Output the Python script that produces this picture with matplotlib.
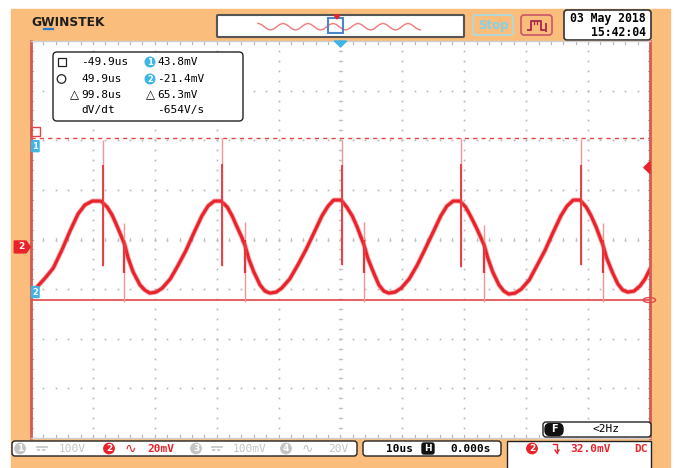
import matplotlib
matplotlib.use("Agg")
import matplotlib.pyplot as plt
from matplotlib.patches import FancyBboxPatch, Rectangle, Circle, Polygon
from matplotlib import font_manager

# ---------------------------------------------------------------------------
# CH2 trace: time in us, amplitude in mV
# ---------------------------------------------------------------------------
trace_t = [
    -50.0, -49.2, -47.7, -46.4, -45.0, -43.7, -42.4, -41.3, -40.1, -38.7,
    -37.7, -36.9, -36.1, -35.3, -34.9, -34.3, -33.5, -32.4, -31.6, -30.8,
    -29.8, -28.8, -27.5, -26.3, -25.0, -23.7, -22.4, -21.4, -20.4, -19.3,
    -18.3, -17.5, -16.7, -15.9, -15.4, -14.8, -14.0, -13.0, -12.2, -11.4,
    -10.4, -9.5, -8.2, -6.9, -5.6, -4.3, -3.0, -2.0, -1.1, 0.1,
    1.0, 1.9, 2.7, 3.3, 3.8, 4.4, 5.3, 6.2, 7.0, 7.8,
    8.8, 9.8, 11.1, 12.4, 13.6, 14.9, 16.2, 17.2, 18.2, 19.3,
    20.2, 21.0, 21.9, 22.7, 23.2, 23.8, 24.6, 25.6, 26.4, 27.2,
    28.2, 29.2, 30.5, 31.7, 33.0, 34.3, 35.6, 36.6, 37.6, 38.7,
    39.7, 40.5, 41.3, 41.9, 42.4, 43.0, 43.9, 44.8, 45.6, 46.4,
    47.4, 48.4, 49.2, 50.0,
]
trace_mv = [
    -18.2, -16.6, -12.5, -8.5, -1.2, 6.4, 13.3, 16.9, 18.5, 18.5,
    16.1, 12.9, 8.4, 3.6, 1.2, -4.5, -10.1, -15.3, -17.4, -18.6,
    -18.2, -16.6, -12.9, -7.7, -1.6, 5.6, 12.5, 16.5, 18.5, 18.5,
    16.1, 12.5, 8.0, 3.6, 0.4, -4.9, -10.1, -15.3, -17.8, -18.6,
    -18.2, -16.6, -12.9, -7.3, -1.2, 5.6, 12.5, 16.5, 18.9, 18.9,
    16.1, 12.5, 8.0, 4.0, 0.8, -4.5, -10.1, -15.3, -17.8, -18.6,
    -18.2, -16.6, -12.9, -7.3, -1.2, 5.6, 12.5, 16.5, 18.5, 18.5,
    16.1, 12.5, 8.0, 3.6, 0.8, -4.5, -10.1, -15.3, -17.8, -19.0,
    -18.6, -17.0, -13.3, -7.7, -1.6, 5.6, 12.5, 16.5, 18.9, 18.9,
    16.1, 12.5, 8.0, 4.0, 0.8, -4.5, -10.1, -14.9, -17.4, -18.2,
    -17.8, -15.7, -12.9, -8.9,
]

# switching spikes (big one at the top of each cycle, smaller one on the fall)
spike_t = [-38.4, -19.1, 0.2, 19.5, 38.8]
spike_hi = [43.1, 43.9, 43.1, 43.9, 43.5]
spike_lo = [-7.7, -7.7, -7.3, -8.1, -7.3]
spike_core_hi = [33.0, 33.5, 33.0, 33.5, 33.0]
ring_t = [-34.9, -15.4, 3.8, 23.2, 42.4]
ring_hi = [9.8, 10.1, 10.1, 8.8, 9.7]
ring_lo = [-22.0, -22.0, -22.0, -22.0, -22.0]
ring_core_hi = [2.8, 3.0, 2.8, 2.0, 2.8]
ring_core_lo = [-10.5, -10.5, -10.5, -10.5, -10.5]

cursor1_mv = 43.8
cursor2_mv = -21.4
trig_level_mv = 32.0
ch2_ground_mv = 0.0

# memory bar overview wave (normalised samples, 1/8 cycle apart)
mini_wave = [
    1, .7, 0, -.7, -1, -.7, 0, .7, 1, .7, 0, -.7, -1, -.7, 0, .7,
    1, .7, 0, -.7, -1, -.7, 0, .7, 1, .7, 0, -.7, -1, -.7, 0, .7,
    1, .7, 0, -.7, -1, -.7, 0, .7, 1, .7, 0, -.7, -1, -.7, 0, .7,
    1, .7, 0, -.7, -1,
]

# readouts
cursor_rows = [
    ("-49.9us", "43.8mV"),
    ("49.9us", "-21.4mV"),
    ("99.8us", "65.3mV"),
    ("dV/dt", "-654V/s"),
]
date_text = "03 May 2018"
time_text = "15:42:04"

ORANGE = "#FABD7B"
RED = "#E8232B"
CYAN = "#3DB5E6"
GREY = "#C4C4C4"
MONO = "DejaVu Sans Mono"

names = {f.name for f in font_manager.fontManager.ttflist}
LOGO_FONT = "Liberation Sans Narrow" if "Liberation Sans Narrow" in names else "DejaVu Sans"
LOGO_SIZE = 12 if LOGO_FONT == "Liberation Sans Narrow" else 8.8

fig = plt.figure(figsize=(6.76, 4.68), dpi=100)
fig.patch.set_facecolor("white")

# pixel-space background layer
bg = fig.add_axes([0, 0, 1, 1])
bg.set_xlim(0, 676)
bg.set_ylim(468, 0)
bg.axis("off")
bg.add_patch(Rectangle((11, 9), 659, 460, color=ORANGE, zorder=0))


def rbox(x0, y0, x1, y1, fc="white", ec="#222222", lw=1.0, r=3, z=2, ax=bg):
    ax.add_patch(FancyBboxPatch((x0 + r, y0 + r), x1 - x0 - 2 * r, y1 - y0 - 2 * r,
                                boxstyle=f"round,pad={r}", fc=fc, ec=ec, lw=lw, zorder=z))


def badge(ax, x, y, label, color, r=5.2, fs=6.5):
    ax.add_patch(Circle((x, y), r, color=color, zorder=5))
    ax.text(x, y + 0.3, label, color="white", fontsize=fs, fontweight="bold",
            ha="center", va="center", zorder=6)


# logo
bg.text(31, 22.5, "GWINSTEK", fontsize=LOGO_SIZE, fontweight="bold", color="#1E1E1E",
        ha="left", va="center", family=LOGO_FONT)
bg.plot([44, 53], [28.5, 28.5], color="#2A7BD0", lw=1.6)

# memory bar
rbox(217, 15, 464, 37, ec="#555555", lw=1.5, r=1)
mini_x = [258 + i * 3.125 for i in range(len(mini_wave))]
mini_y = [26.7 - 3.3 * v for v in mini_wave]
bg.plot(mini_x, mini_y, color="#F07A7A", lw=1.0, zorder=3)
bg.add_patch(Rectangle((328, 18), 15, 15, fill=False, ec="#4A86C8", lw=1.5, zorder=4))
bg.add_patch(Polygon([[334, 15], [340, 15], [337, 19]], color=RED, zorder=5))

# Stop / trigger buttons
rbox(473, 15, 513, 35, fc=ORANGE, ec="#A8DCEA", lw=1.2, r=3)
bg.text(493, 25.5, "Stop", color="#86CFE4", fontsize=8.5, fontweight="bold",
        ha="center", va="center", zorder=3)
rbox(521, 15, 552, 35, fc=ORANGE, ec="#C8566A", lw=1.2, r=3)
bg.plot([528, 531, 531, 541, 541, 544], [30, 30, 21, 21, 30, 30], color="#B0304E", lw=1.4, zorder=3)
bg.plot([546, 546], [24, 31], color="#B0304E", lw=1.4, zorder=3)
for tx in [534, 537]:
    bg.plot([tx, tx], [21, 24], color="#B0304E", lw=1.0, zorder=3)

# date box
rbox(564, 10, 651, 40, ec="#333333", lw=1.2, r=3)
bg.text(646, 18.5, date_text, family=MONO, fontsize=8.3, fontweight="bold",
        ha="right", va="center", zorder=3)
bg.text(646, 32, time_text, family=MONO, fontsize=8.3, fontweight="bold",
        ha="right", va="center", zorder=3)

# bottom status bar
rbox(12, 441, 357, 456, lw=1.0, r=3)
rbox(363, 441, 501, 456, lw=1.0, r=3)
bg.add_patch(Rectangle((507, 441), 144, 30, fc="white", ec="#222222", lw=1.0, zorder=2))

yb = 448.5
badge(bg, 20, yb, "1", GREY)
for x0, col in [(37, GREY), (212, GREY)]:
    bg.plot([x0, x0 + 10], [yb - 1.5, yb - 1.5], color=col, lw=1.2, zorder=3)
    bg.plot([x0, x0 + 10], [yb + 1.5, yb + 1.5], color=col, lw=1.2, ls=(0, (2, 1)), zorder=3)
bg.text(59, yb, "100V", family=MONO, fontsize=8, color=GREY, va="center", zorder=3)
badge(bg, 109, yb, "2", RED)
bg.text(130, yb, "\u223f", fontsize=10, color=RED, ha="center", va="center", zorder=3)
bg.text(147, yb, "20mV", family=MONO, fontsize=8, color=RED, fontweight="bold", va="center", zorder=3)
badge(bg, 196, yb, "3", GREY)
bg.text(233, yb, "100mV", family=MONO, fontsize=8, color=GREY, va="center", zorder=3)
badge(bg, 286, yb, "4", GREY)
bg.text(307, yb, "\u223f", fontsize=10, color=GREY, ha="center", va="center", zorder=3)
bg.text(328, yb, "20V", family=MONO, fontsize=8, color=GREY, va="center", zorder=3)

bg.text(386, yb, "10us", family=MONO, fontsize=8, fontweight="bold", va="center", zorder=3)
rbox(422, 443, 434, 454, fc="#111111", ec="#111111", r=2, z=3)
bg.text(428, yb, "H", fontsize=6.5, color="white", fontweight="bold", ha="center", va="center", zorder=4)
bg.text(450, yb, "0.000s", family=MONO, fontsize=8, fontweight="bold", va="center", zorder=3)

badge(bg, 532, yb, "2", RED)
bg.plot([553, 557, 557], [443.5, 443.5, 453], color=RED, lw=1.0, zorder=3)
bg.plot([555, 557, 559], [450, 453, 450], color=RED, lw=1.0, zorder=3)
bg.text(570, yb, "32.0mV", family=MONO, fontsize=8, color=RED, fontweight="bold", va="center", zorder=3)
bg.text(648, yb, "DC", family=MONO, fontsize=8, color=RED, fontweight="bold", ha="right", va="center", zorder=3)

# ---------------------------------------------------------------------------
# scope screen
# ---------------------------------------------------------------------------
ax = fig.add_axes([31 / 676, 30 / 468, 619 / 676, 397 / 468])
ax.set_xlim(-50, 50)
ax.set_ylim(-77, 83)
ax.set_facecolor("white")
ax.set_xticks([])
ax.set_yticks([])
for side in ["top", "bottom"]:
    ax.spines[side].set_color("#CFCFCF")
    ax.spines[side].set_linewidth(1.0)
for side in ["left", "right"]:
    ax.spines[side].set_color("#D25B55")
    ax.spines[side].set_linewidth(2.0)

# graticule: dots every fifth of a division along the major lines
x_major = [-40, -30, -20, -10, 0, 10, 20, 30, 40]
y_major = [-57, -37, -17, 3, 23, 43, 63]
x_minor = [-50 + 2 * i for i in range(51)]
y_minor = [-77 + 4 * i for i in range(41)]
for xm in x_major:
    ax.plot([xm] * len(y_minor), y_minor, ls="none", marker="s", ms=1.2, color="#B5B5B5", mew=0)
for ym in y_major:
    ax.plot(x_minor, [ym] * len(x_minor), ls="none", marker="s", ms=1.2, color="#B5B5B5", mew=0)
# short minor ticks on centre lines and edges
for xm in x_minor:
    ax.plot([xm, xm], [3 - 0.6, 3 + 0.6], color="#C2C2C2", lw=0.8)
    ax.plot([xm, xm], [83, 81.6], color="#B5B5B5", lw=0.8)
    ax.plot([xm, xm], [-77, -75.6], color="#B5B5B5", lw=0.8)
for ym in y_minor:
    ax.plot([-0.25, 0.25], [ym, ym], color="#C2C2C2", lw=0.8)
    ax.plot([-50, -49.6], [ym, ym], color="#B5B5B5", lw=0.8)
    ax.plot([49.6, 50], [ym, ym], color="#B5B5B5", lw=0.8)

# cursors
ax.axhline(cursor1_mv, color="#E0454A", lw=1.0, ls=(0, (3, 3)))
ax.axhline(cursor2_mv, color="#E0454A", lw=1.2)

# trace and spikes
ax.plot(trace_t, trace_mv, color=RED, lw=3.6, alpha=0.35, solid_joinstyle="round")
ax.plot(trace_t, trace_mv, color=RED, lw=2.3, solid_joinstyle="round", solid_capstyle="round")
ax.vlines(spike_t, spike_lo, spike_hi, color="#F29595", lw=1.0)
ax.vlines(spike_t, spike_lo, spike_core_hi, color="#E8343A", lw=1.3)
ax.vlines(ring_t, ring_lo, ring_hi, color="#F29595", lw=1.0)
ax.vlines(ring_t, ring_core_lo, ring_core_hi, color="#E8343A", lw=1.6)

# markers on the screen edges
ytr = ax.get_yaxis_transform()
xtr = ax.get_xaxis_transform()
for val, lab, off in [(cursor1_mv, "1", -3.2), (cursor2_mv, "2", 3.2)]:
    ax.add_patch(FancyBboxPatch((0.003, val + off - 2.2), 0.008, 4.4, boxstyle="round,pad=0.002",
                                transform=ytr, fc=CYAN, ec=CYAN, clip_on=False, zorder=6))
    ax.text(0.007, val + off, lab, transform=ytr, color="white", fontsize=6, fontweight="bold",
            ha="center", va="center", zorder=7)
ax.add_patch(Rectangle((0.0, cursor1_mv + 1.0), 0.015, 3.4, transform=ytr, fill=False,
                       ec="#E0454A", lw=1.0, clip_on=False, zorder=6))
ax.add_patch(Polygon([[-0.027, ch2_ground_mv + 2.4], [-0.008, ch2_ground_mv + 2.4],
                      [-0.001, ch2_ground_mv], [-0.008, ch2_ground_mv - 2.4],
                      [-0.027, ch2_ground_mv - 2.4]], closed=True, transform=ytr,
                     color=RED, clip_on=False, zorder=6))
ax.text(-0.015, ch2_ground_mv, "2", transform=ytr, color="white", fontsize=6.5,
        fontweight="bold", ha="center", va="center", zorder=7)
ax.add_patch(Polygon([[0.99, trig_level_mv], [1.0, trig_level_mv + 2.4], [1.0, trig_level_mv - 2.4]],
                     closed=True, transform=ytr, color=RED, clip_on=False, zorder=6))
ax.add_patch(Polygon([[-1.0, 1.0], [1.0, 1.0], [0.0, 0.985]], closed=True, transform=xtr,
                     color=CYAN, clip_on=False, zorder=6))
ax.add_patch(Circle((49.9, cursor2_mv), 1.0, fill=False, ec="#E0454A", lw=1.0, clip_on=False, zorder=6))

# cursor readout box
top = fig.add_axes([0, 0, 1, 1], facecolor="none")
top.set_xlim(0, 676)
top.set_ylim(468, 0)
top.axis("off")
rbox(53, 52, 243, 121, ec="#222222", lw=1.0, r=4, ax=top)
row_y = [62, 79, 95, 110]
top.add_patch(Rectangle((58, 58), 8, 8, fill=False, ec="#222222", lw=0.9, zorder=5))
top.add_patch(Circle((61.5, row_y[1]), 4.3, fill=False, ec="#222222", lw=0.9, zorder=5))
for i, (left, right) in enumerate(cursor_rows):
    if i == 2:
        top.text(70, row_y[i], "\u25b3", fontsize=8.5, ha="left", va="center", zorder=5)
        top.text(146, row_y[i], "\u25b3", fontsize=8.5, ha="left", va="center", zorder=5)
    top.text(81, row_y[i], left, family=MONO, fontsize=8, ha="left", va="center", zorder=5)
    top.text(157, row_y[i], right, family=MONO, fontsize=8, ha="left", va="center", zorder=5)
badge(top, 150, row_y[0], "1", CYAN, r=4.8, fs=6)
badge(top, 150, row_y[1], "2", CYAN, r=4.8, fs=6)

# F / frequency box
rbox(543, 422, 651, 437, lw=1.0, r=3, ax=top)
rbox(545, 423.5, 563, 435.5, fc="#111111", ec="#111111", r=5, z=4, ax=top)
top.text(554, 429.5, "F", color="white", fontsize=7, fontweight="bold", ha="center", va="center", zorder=5)
top.text(606, 429.5, "<2Hz", family=MONO, fontsize=8, ha="center", va="center", zorder=5)

fig.savefig("out.png", dpi=100)
